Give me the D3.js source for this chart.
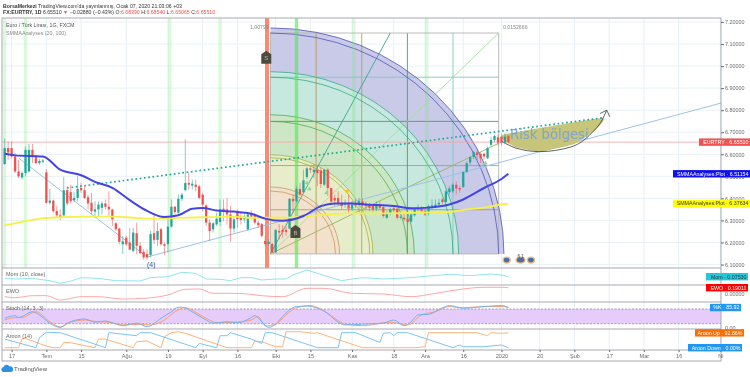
<!DOCTYPE html>
<html>
<head>
<meta charset="utf-8">
<script src="https://cdn.jsdelivr.net/npm/d3@7"></script>
<style>
    body { margin: 0; background: #fff; }
    svg { display: block; font-family: "Liberation Sans", Arial, sans-serif; filter: blur(0.3px); }
</style>
</head>
<body>
<svg id="chart" width="750" height="377"></svg>
<script>
// CANDLES, ONE ENTRY PER DAILY BAR
const opens = [6.556,6.628,6.628,6.590,6.522,6.495,6.515,6.522,6.620,6.587,6.560,6.566,6.518,6.380,6.390,6.342,6.323,6.323,6.437,6.428,6.392,6.402,6.447,6.437,6.405,6.380,6.340,6.350,6.357,6.377,6.362,6.350,6.287,6.263,6.192,6.222,6.200,6.162,6.242,6.185,6.158,6.148,6.143,6.242,6.212,6.260,6.192,6.192,6.272,6.362,6.335,6.398,6.437,6.470,6.458,6.462,6.455,6.417,6.368,6.290,6.260,6.282,6.293,6.353,6.350,6.327,6.263,6.335,6.317,6.305,6.260,6.332,6.323,6.290,6.283,6.207,6.193,6.193,6.155,6.252,6.257,6.257,6.263,6.398,6.387,6.443,6.428,6.497,6.536,6.520,6.530,6.527,6.462,6.530,6.447,6.402,6.402,6.380,6.372,6.372,6.353,6.380,6.372,6.387,6.375,6.368,6.365,6.353,6.368,6.360,6.312,6.332,6.355,6.353,6.312,6.312,6.308,6.295,6.323,6.350,6.353,6.342,6.332,6.362,6.365,6.372,6.395,6.383,6.428,6.432,6.462,6.447,6.452,6.520,6.563,6.587,6.608,6.602,6.602,6.582,6.643,6.665,6.677,6.680,6.653,6.684]
const highs = [6.672,6.658,6.658,6.605,6.575,6.522,6.635,6.647,6.647,6.597,6.578,6.578,6.533,6.443,6.395,6.365,6.350,6.497,6.455,6.462,6.428,6.500,6.470,6.455,6.417,6.425,6.387,6.387,6.387,6.395,6.432,6.353,6.293,6.267,6.230,6.230,6.267,6.267,6.290,6.200,6.170,6.170,6.252,6.328,6.290,6.267,6.200,6.312,6.395,6.365,6.417,6.425,6.668,6.515,6.485,6.485,6.462,6.425,6.372,6.305,6.293,6.335,6.395,6.395,6.402,6.365,6.312,6.350,6.335,6.330,6.335,6.345,6.335,6.298,6.290,6.230,6.215,6.200,6.260,6.283,6.278,6.272,6.402,6.417,6.455,6.470,6.530,6.542,6.545,6.548,6.552,6.537,6.533,6.537,6.447,6.417,6.432,6.417,6.395,6.417,6.387,6.398,6.402,6.398,6.387,6.380,6.372,6.387,6.387,6.365,6.342,6.357,6.365,6.357,6.327,6.335,6.327,6.335,6.357,6.372,6.365,6.357,6.372,6.395,6.395,6.398,6.402,6.440,6.455,6.470,6.477,6.455,6.522,6.567,6.590,6.615,6.615,6.608,6.608,6.635,6.680,6.690,6.690,6.695,6.695,6.685]
const lows = [6.552,6.575,6.582,6.515,6.492,6.485,6.500,6.518,6.560,6.555,6.552,6.560,6.377,6.372,6.335,6.312,6.302,6.317,6.368,6.377,6.383,6.387,6.425,6.398,6.350,6.327,6.312,6.320,6.327,6.350,6.320,6.275,6.252,6.192,6.147,6.185,6.167,6.155,6.147,6.147,6.122,6.122,6.132,6.193,6.185,6.185,6.143,6.155,6.267,6.327,6.327,6.387,6.432,6.440,6.440,6.432,6.395,6.342,6.275,6.207,6.245,6.275,6.275,6.297,6.282,6.203,6.245,6.267,6.282,6.290,6.252,6.305,6.282,6.267,6.222,6.185,6.185,6.152,6.152,6.215,6.222,6.230,6.260,6.335,6.380,6.410,6.425,6.488,6.515,6.492,6.455,6.447,6.455,6.410,6.372,6.365,6.365,6.350,6.357,6.332,6.342,6.357,6.350,6.357,6.350,6.342,6.342,6.342,6.350,6.312,6.308,6.323,6.335,6.305,6.305,6.297,6.283,6.290,6.317,6.342,6.335,6.320,6.323,6.350,6.357,6.365,6.372,6.380,6.417,6.425,6.417,6.425,6.447,6.515,6.552,6.578,6.575,6.560,6.575,6.578,6.635,6.655,6.640,6.640,6.645,6.651]
const closes = [6.628,6.608,6.590,6.522,6.500,6.515,6.620,6.620,6.587,6.560,6.570,6.572,6.380,6.390,6.342,6.323,6.315,6.437,6.377,6.387,6.402,6.443,6.437,6.402,6.377,6.342,6.350,6.372,6.377,6.362,6.350,6.305,6.260,6.203,6.205,6.192,6.167,6.245,6.185,6.152,6.132,6.132,6.238,6.212,6.252,6.192,6.185,6.272,6.362,6.338,6.398,6.417,6.470,6.462,6.467,6.452,6.402,6.372,6.290,6.252,6.287,6.308,6.350,6.345,6.327,6.263,6.305,6.305,6.302,6.317,6.327,6.317,6.290,6.278,6.230,6.193,6.203,6.155,6.257,6.245,6.248,6.248,6.398,6.387,6.443,6.417,6.482,6.536,6.530,6.530,6.515,6.465,6.530,6.447,6.385,6.390,6.380,6.365,6.380,6.353,6.372,6.368,6.387,6.368,6.365,6.357,6.350,6.372,6.357,6.320,6.332,6.350,6.347,6.312,6.317,6.305,6.293,6.327,6.354,6.357,6.342,6.327,6.365,6.368,6.372,6.380,6.383,6.432,6.445,6.462,6.445,6.440,6.520,6.560,6.587,6.610,6.597,6.582,6.590,6.628,6.665,6.683,6.653,6.653,6.680,6.6551]

// MOVING AVERAGES
const smmaFastBars = [0,3,11,16,22,26,31,36,41,46,50,54,57,61,66,71,75,80,86,91,95,100,104,112,117,122,128,132,138,143,145]
const smmaFast = [6.602,6.595,6.590,6.530,6.505,6.475,6.448,6.392,6.343,6.315,6.323,6.353,6.356,6.345,6.340,6.330,6.308,6.298,6.320,6.365,6.377,6.377,6.372,6.365,6.355,6.358,6.372,6.395,6.447,6.488,6.5115]
const smmaSlowBars = [0,4,10,16,23,31,37,42,47,57,66,71,80,90,100,109,119,128,133,138,143,145]
const smmaSlow = [6.278,6.290,6.308,6.314,6.317,6.317,6.312,6.308,6.310,6.314,6.317,6.312,6.312,6.323,6.332,6.332,6.335,6.338,6.350,6.358,6.372,6.3763]

// LOWER PANES
const momBars = [0,3,8,13,16,19,22,27,32,39,42,47,51,55,58,62,65,68,71,74,78,81,83,87,90,94,97,100,103,109,117,122,128,134,140,143,145]
const momValues = [.03,0,.02,-.055,-.142,-.07,.044,.02,-.055,-.066,.044,.076,.219,.186,0,-.01,-.055,.044,.044,-.033,0,0,.13,.295,.186,.044,-.055,0,.044,0,.044,.098,.153,.11,.164,.13,.0753]
const ewoBars = [0,3,8,12,16,22,27,34,40,47,52,56,60,66,70,74,80,87,92,100,109,117,124,132,138,143,145]
const ewoValues = [-.081,-.111,-.051,-.051,-.182,-.081,-.081,-.152,-.131,-.03,.142,.152,.02,.02,0,-.051,-.081,.172,.172,.02,0,-.081,.02,.152,.202,.202,.1901]
const stochKBars = [0,3,4,8,10,13,16,18,23,26,29,34,38,41,45,48,50,51,55,58,60,64,67,71,72,74,76,78,80,82,84,87,90,93,96,98,103,109,112,115,117,119,122,126,128,132,138,143,145]
const stochK = [42,53,45,69,56,22,5,22,39,26,31,12,22,8,42,69,87,87,60,35,22,28,24,45,53,28,5,18,49,76,90,92,83,62,26,15,18,22,35,12,28,56,58,85,94,83,90,94,85.92]
const stochDBars = [0,3,5,9,13,16,19,23,27,30,34,39,42,46,49,52,56,59,61,66,71,73,75,78,81,84,88,91,95,98,103,111,116,120,124,128,132,138,143,145]
const stochD = [35,45,45,69,28,7,26,35,28,26,15,18,15,35,69,85,58,35,24,26,35,49,11,18,56,85,94,80,42,18,12,26,15,56,69,90,85,90,90,87]
const aroonUpBars = [0,4,5,6,12,14,16,17,19,26,27,29,37,38,41,45,46,48,50,52,64,71,72,74,78,80,81,85,89,90,103,118,121,122,136,139,140,143,145]
const aroonUp = [0,0,54,58,10,0,0,33,31,0,54,54,0,37,42,0,69,94,100,90,0,0,42,37,6,6,100,100,90,94,0,0,6,94,94,75,94,90,92.86]
const aroonDownBars = [0,9,10,12,16,29,30,38,39,42,55,56,61,62,64,65,71,74,75,77,90,96,97,101,108,109,111,112,113,116,129,131,132,138,143,145]
const aroonDown = [54,0,62,96,94,0,94,75,94,94,0,27,0,75,75,94,54,27,94,94,0,0,94,94,33,90,94,75,94,94,0,17,6,6,17,0]

// TICK LABELS
const priceTicks = [7.2,7.1,7.0,6.9,6.8,6.7,6.6,6.5,6.4,6.3,6.2,6.1]
const dateTickBars = [2,12,22,35,47,57,67,78,88,100,112,121,132,143,154,164,174,184,194,206]
const dateTickLabels = ['17','Tem','15','Ağu','19','Eyl','16','Eki','15','Kas','18','Ara','16','2020','20','Şub','17','Mar','16','Ni']
const sessionBars = [0,6,47.5,62,84,100.5,121.5]

// DRAWINGS
const gannStart = [76.5, 6.148]
const gannEnd = [142.2, 7.15]
const gannLevels = [0.2, 0.4, 0.6, 0.8]
const gannInner = [0.285, 0.435, 0.6, 0.8, 1]
const gannOuter = [0.303, 0.449, 0.63, 0.825, 1.023]
const gannFills = ['#f2e1cc', '#e7edcb', '#cde7c6', '#c7e8df', '#c8cae8']
const gannStrokes = ['#c79a5c', '#a3b342', '#4caf50', '#3aa88e', '#5256b8']
const gannGrid = ['#b79a5a', '#a3ad4d', '#4f9f5c', '#7ccbb8']
const fanEnds = [[111, 7.15], [142.2, 7.15], [142.2, 6.65]]
const fanColours = ['#3aa88e', '#a5dca0', '#9db35b']
const trendBars = [4, 41, 206.4]
const trendPrices = [6.583, 6.134, 6.833]
const dotsBars = [18, 172]
const dotsPrices = [6.447, 6.765]
const riskBars = [144.2, 172, 170, 164, 154, 147, 143.5]
const riskPrices = [6.692, 6.765, 6.71, 6.647, 6.612, 6.633, 6.665]
const arrowBars = [143, 147, 154, 163, 169, 172, 173.3]
const arrowPrices = [6.66, 6.629, 6.612, 6.633, 6.697, 6.756, 6.80]
const triangleBars = [87.7, 87, 92.6, 138.4]
const trianglePrices = [6.443, 6.47, 6.425, 6.56]

let svg = d3.select('#chart')

// SCALES
let x = d3.scaleLinear().domain([0, 145]).range([4.67, 508.4])
let y = d3.scaleLinear().domain([6.1, 7.2]).range([264.5, 22])
let yMom = d3.scaleLinear().domain([0, 0.0753]).range([279, 276.7])
let yEwo = d3.scaleLinear().domain([0, 0.1901]).range([294, 287.7])
let yStoch = d3.scaleLinear().domain([0, 100]).range([328.6, 304.1])
let yAroon = d3.scaleLinear().domain([0, 100]).range([347.7, 331.7])

let chartLeft = 2
let chartRight = 721
let chartTop = 18
let mainBottom = 268
let axisTop = 350
let chartBottom = 361

// GRID
svg.append('g')
    .selectAll('line')
    .data(dateTickBars)
    .join('line')
        .attr('x1', d => x(d))
        .attr('x2', d => x(d))
        .attr('y1', chartTop)
        .attr('y2', axisTop)
        .attr('stroke', '#e6f0f4')
        .attr('stroke-width', 1)
svg.append('g')
    .selectAll('line')
    .data(priceTicks)
    .join('line')
        .attr('x1', chartLeft)
        .attr('x2', chartRight)
        .attr('y1', d => y(d))
        .attr('y2', d => y(d))
        .attr('stroke', '#e9f2f5')
        .attr('stroke-width', 1)

// GANN ARCS
let gannX = d3.scaleLinear().domain([0, 1]).range([x(gannStart[0]), x(gannEnd[0])])
let gannY = d3.scaleLinear().domain([0, 1]).range([y(gannStart[1]), y(gannEnd[1])])
let quarter = function(level) {
    let rx = gannX(level) - gannX(0)
    let ry = gannY(0) - gannY(level)
    return [`M${gannX(level)},${gannY(0)}`, `A${rx},${ry} 0 0 0 ${gannX(0)},${gannY(level)}`]
}
let gann = svg.append('g')
d3.range(4, -1, -1).forEach(i => {
    let outer = quarter(gannOuter[i])
    gann.append('path')
        .attr('d', outer.join('') + `L${gannX(0)},${gannY(0)}Z`)
        .attr('fill', gannFills[i])
})
gannLevels.forEach((level, i) => {
    gann.append('line')
        .attr('x1', gannX(level)).attr('x2', gannX(level))
        .attr('y1', gannY(0)).attr('y2', gannY(1))
        .attr('stroke', gannGrid[i]).attr('stroke-width', 0.9)
    gann.append('line')
        .attr('x1', gannX(0)).attr('x2', gannX(1))
        .attr('y1', gannY(level)).attr('y2', gannY(level))
        .attr('stroke', gannGrid[i]).attr('stroke-width', 0.9)
})
gann.append('rect')
    .attr('x', gannX(0))
    .attr('y', gannY(1))
    .attr('width', gannX(1) - gannX(0))
    .attr('height', gannY(0) - gannY(1))
    .attr('fill', 'none')
    .attr('stroke', '#b5b5b5')
    .attr('stroke-width', 0.9)
fanEnds.forEach((end, i) => {
    gann.append('line')
        .attr('x1', gannX(0)).attr('y1', gannY(0))
        .attr('x2', x(end[0])).attr('y2', y(end[1]))
        .attr('stroke', fanColours[i]).attr('stroke-width', 0.9)
})
gannStrokes.forEach((colour, i) => {
    [gannInner[i], gannOuter[i]].forEach(level => {
        gann.append('path')
            .attr('d', quarter(level).join(''))
            .attr('fill', 'none')
            .attr('stroke', colour)
            .attr('stroke-width', 0.8)
    })
})

// SESSION BANDS
svg.append('g')
    .selectAll('rect')
    .data(sessionBars)
    .join('rect')
        .attr('x', d => x(d) - 1.7)
        .attr('y', chartTop)
        .attr('width', 3.4)
        .attr('height', mainBottom - chartTop)
        .attr('fill', (d, i) => i == 4 ? '#4fe84f' : '#6fe86f')
        .attr('fill-opacity', (d, i) => i == 4 ? 0.6 : 0.24)
svg.append('rect')
    .attr('x', 265)
    .attr('y', chartTop)
    .attr('width', 4)
    .attr('height', mainBottom - chartTop)
    .attr('fill', '#fa8a72')

// LAST PRICE LINE
svg.append('line')
    .attr('x1', chartLeft)
    .attr('x2', chartRight)
    .attr('y1', y(closes[closes.length - 1]))
    .attr('y2', y(closes[closes.length - 1]))
    .attr('stroke', '#f7a3a3')
    .attr('stroke-width', 0.8)

// TREND LINES
let polyline = d3.line().x(d => x(d[0])).y(d => y(d[1]))
svg.append('path')
    .attr('d', polyline(d3.zip(trendBars, trendPrices)))
    .attr('fill', 'none')
    .attr('stroke', '#9cc2e8')
    .attr('stroke-width', 1)

// RISK AREA AND ARROW
svg.append('path')
    .attr('d', d3.line().x(d => x(d[0])).y(d => y(d[1])).curve(d3.curveCardinalClosed.tension(0.6))(d3.zip(riskBars, riskPrices)))
    .attr('fill', '#c6c57a')
svg.append('path')
    .attr('d', polyline.curve(d3.curveMonotoneX)(d3.zip(arrowBars, arrowPrices)))
    .attr('fill', 'none')
    .attr('stroke', '#3a3a3a')
    .attr('stroke-width', 0.8)
polyline.curve(d3.curveLinear)
svg.append('path')
    .attr('d', polyline([[171.4, 6.785], [173.3, 6.80], [174.2, 6.77]]))
    .attr('fill', 'none')
    .attr('stroke', '#3a3a3a')
    .attr('stroke-width', 0.8)

svg.append('path')
    .attr('d', polyline(d3.zip(dotsBars, dotsPrices)))
    .attr('fill', 'none')
    .attr('stroke', '#26a69a')
    .attr('stroke-width', 1.7)
    .attr('stroke-dasharray', '1.7 2.6')

// CANDLES
let up = '#26a69a'
let down = '#ef5350'
let colourOf = i => closes[i] >= opens[i] ? up : down
let candles = svg.append('g')
candles.selectAll('line')
    .data(opens)
    .join('line')
        .attr('x1', (d, i) => x(i))
        .attr('x2', (d, i) => x(i))
        .attr('y1', (d, i) => y(highs[i]))
        .attr('y2', (d, i) => y(lows[i]))
        .attr('stroke', (d, i) => colourOf(i))
        .attr('stroke-opacity', 0.7)
        .attr('stroke-width', 0.8)
candles.selectAll('rect')
    .data(opens)
    .join('rect')
        .attr('x', (d, i) => x(i) - 1.15)
        .attr('width', 2.3)
        .attr('y', (d, i) => y(Math.max(opens[i], closes[i])))
        .attr('height', (d, i) => Math.max(0.8, Math.abs(y(opens[i]) - y(closes[i]))))
        .attr('fill', (d, i) => colourOf(i))

// SMMA LINES
let smooth = d3.line().curve(d3.curveMonotoneX).x(d => x(d[0])).y(d => y(d[1]))
svg.append('path')
    .attr('d', smooth(d3.zip(smmaSlowBars, smmaSlow)))
    .attr('fill', 'none')
    .attr('stroke', '#f5f04a')
    .attr('stroke-width', 1.9)
svg.append('path')
    .attr('d', smooth(d3.zip(smmaFastBars, smmaFast)))
    .attr('fill', 'none')
    .attr('stroke', '#4444e6')
    .attr('stroke-width', 2)

// TRIANGLES, STAR AND FLAGS
svg.append('g')
    .selectAll('path')
    .data(d3.zip(triangleBars, trianglePrices))
    .join('path')
        .attr('d', d3.symbol(d3.symbolTriangle, 9))
        .attr('transform', d => `translate(${x(d[0])},${y(d[1])})`)
        .attr('fill', '#8fd98f')
svg.append('path')
    .attr('d', d3.symbol(d3.symbolStar, 9))
    .attr('transform', `translate(${x(98.6)},${y(6.433)})`)
    .attr('fill', '#ffc107')

let flag = function(bar, price, label) {
    let fx = x(bar)
    let fy = y(price)
    svg.append('path')
        .attr('d', `M${fx - 5},${fy + 6}V${fy - 3.5}L${fx},${fy - 7}L${fx + 5},${fy - 3.5}V${fy + 6}Z`)
        .attr('fill', '#4b4b3e')
    svg.append('text')
        .attr('x', fx)
        .attr('y', fy + 2.5)
        .attr('text-anchor', 'middle')
        .attr('font-size', 6)
        .attr('fill', '#b5b5a5')
        .text(label)
}
flag(75.3, 7.038, 'S')
flag(83.7, 6.247, 'B')

// ICON BELOW THE ARCS
let icon = svg.append('g')
icon.selectAll('ellipse')
    .data([144.5, 148.5, 151.5])
    .join('ellipse')
        .attr('cx', d => x(d))
        .attr('cy', y(6.12))
        .attr('rx', (d, i) => i == 1 ? 4.5 : 3.5)
        .attr('ry', 3)
        .attr('fill', '#4a6fa8')
        .attr('stroke', '#f5b880')
        .attr('stroke-width', 1.3)
icon.append('text')
    .attr('x', x(148.5))
    .attr('y', y(6.13))
    .attr('text-anchor', 'middle')
    .attr('font-size', 4.5)
    .attr('fill', '#333')
    .text('6.1')

// LOWER PANES
let stochBand = svg.append('g')
stochBand.append('rect')
    .attr('x', chartLeft)
    .attr('y', yStoch(80))
    .attr('width', chartRight - chartLeft)
    .attr('height', yStoch(20) - yStoch(80))
    .attr('fill', '#e6ccfb')
stochBand.selectAll('line')
    .data([80, 20])
    .join('line')
        .attr('x1', chartLeft)
        .attr('x2', chartRight)
        .attr('y1', d => yStoch(d))
        .attr('y2', d => yStoch(d))
        .attr('stroke', '#8d7a9c')
        .attr('stroke-width', 0.7)
        .attr('stroke-dasharray', '2 1.5')

let paneLine = function(bars, values, scale, colour, curve) {
    svg.append('path')
        .attr('d', d3.line().curve(curve).x(d => x(d[0])).y(d => scale(d[1]))(d3.zip(bars, values)))
        .attr('fill', 'none')
        .attr('stroke', colour)
        .attr('stroke-width', 1)
}
paneLine(momBars, momValues, yMom, '#8fe3ec', d3.curveLinear)
paneLine(ewoBars, ewoValues, yEwo, '#ffa6a6', d3.curveMonotoneX)
paneLine(stochDBars, stochD, yStoch, '#ff9d6a', d3.curveMonotoneX)
paneLine(stochKBars, stochK, yStoch, '#6fb3f0', d3.curveMonotoneX)
paneLine(aroonUpBars, aroonUp, yAroon, '#ffb27a', d3.curveLinear)
paneLine(aroonDownBars, aroonDown, yAroon, '#7cc4f5', d3.curveLinear)

// FRAME
let frame = svg.append('g').attr('stroke', '#a9a9b2').attr('fill', 'none')
frame.append('rect')
    .attr('x', chartLeft)
    .attr('y', chartTop)
    .attr('width', chartRight - chartLeft)
    .attr('height', chartBottom - chartTop)
    .attr('stroke-width', 1)
frame.selectAll('line')
    .data([mainBottom, 285, 302, 329, axisTop])
    .join('line')
        .attr('x1', chartLeft)
        .attr('x2', chartRight)
        .attr('y1', d => d)
        .attr('y2', d => d)
        .attr('stroke-width', 1)

// AXES
let priceAxis = svg.append('g')
    .attr('transform', `translate(${chartRight},0)`)
    .call(d3.axisRight(y).tickValues(priceTicks).tickFormat(d3.format('.5f')).tickSize(3).tickPadding(1))
priceAxis.select('.domain').remove()
priceAxis.attr('font-size', 5.4).attr('font-family', null).attr('color', '#6b6b6b')

let dateAxis = svg.append('g')
    .attr('transform', `translate(0,${axisTop})`)
    .call(d3.axisBottom(x).tickValues(dateTickBars).tickFormat((d, i) => dateTickLabels[i]).tickSize(2).tickPadding(2))
dateAxis.select('.domain').remove()
dateAxis.attr('font-size', 5.6).attr('font-family', null).attr('color', '#6b6b6b')

// TEXT LABELS
let label = function(tx, ty, content, size, colour, anchor) {
    return svg.append('text')
        .attr('x', tx)
        .attr('y', ty)
        .attr('font-size', size)
        .attr('fill', colour)
        .attr('text-anchor', anchor || 'start')
        .text(content)
}
label(3, 7.5, '', 5.2, '#333').call(t => {
    t.append('tspan').attr('font-weight', 'bold').text('BorsaMerkezi')
    t.append('tspan').text(" TradingView.com'da yayınlanmış, Ocak 07, 2020 21:03:06 +03")
})
label(3, 14, '', 5.2, '#333').call(t => {
    t.append('tspan').attr('font-weight', 'bold').text('FX:EURTRY, 1D')
    t.append('tspan').text(' 6.65510 ')
    t.append('tspan').attr('fill', '#ef5350').text('▼')
    t.append('tspan').text(' −0.02880 (−0.43%) O:')
    t.append('tspan').attr('fill', '#ef5350').text('6.68390')
    t.append('tspan').text(' H:')
    t.append('tspan').attr('fill', '#ef5350').text('6.68540')
    t.append('tspan').text(' L:')
    t.append('tspan').attr('fill', '#ef5350').text('6.65065')
    t.append('tspan').text(' C:')
    t.append('tspan').attr('fill', '#ef5350').text('6.65510')
})
label(6, 27, 'Euro / Türk Lirası, 1G, FXCM', 5.3, '#555')
label(6, 34.5, 'SMMAAnalyses (20, 100)', 5.3, '#888')
label(6, 276, 'Mom (10, close)', 5.5, '#666')
label(6, 293, 'EWO', 5.5, '#666')
label(6, 310, 'Stoch (14, 3, 3)', 5.5, '#666')
label(6, 338, 'Aroon (14)', 5.5, '#666')
label(250, 28.5, '1.00799', 5.2, '#888')
label(503, 28.5, '0.0152666', 5.2, '#888')
label(147, 266.5, '(4)', 7, '#2a5a9c')
label(510, 139, 'Risk bölgesi', 13.2, '#6f9ee8')
    .attr('font-family', '"DejaVu Sans"')
    .attr('fill-opacity', 0.85)
label(725, 296, '0.00000', 5.4, '#6b6b6b')
label(725, 330, '0.00', 5.4, '#6b6b6b')

// PRICE LABEL BOXES
let tags = [
    {text: 'EURTRY · 6.65510', value: closes[closes.length - 1], scale: y, left: 699, right: 750, fill: '#ef5350', colour: '#fff'},
    {text: 'SMMAAnalyses:Plot · 6.51154', value: smmaFast[smmaFast.length - 1], scale: y, left: 673, right: 750, fill: '#1010ee', colour: '#fff'},
    {text: 'SMMAAnalyses:Plot · 6.37634', value: smmaSlow[smmaSlow.length - 1], scale: y, left: 673, right: 750, fill: '#ffff00', colour: '#333'},
    {text: 'Mom · 0.07530', value: momValues[momValues.length - 1], scale: yMom, left: 706, right: 748, fill: '#26c6da', colour: '#1c3c40'},
    {text: 'EWO · 0.19011', value: ewoValues[ewoValues.length - 1], scale: yEwo, left: 706, right: 748, fill: '#f00', colour: '#fff'},
    {text: '%K · 85.92', value: stochK[stochK.length - 1], scale: yStoch, left: 710, right: 741, fill: '#2196f3', colour: '#fff'},
    {text: 'Aroon Up · 92.86%', value: aroonUp[aroonUp.length - 1], scale: yAroon, left: 695, right: 744, fill: '#ff6d00', colour: '#fff'},
    {text: 'Aroon Down · 0.00%', value: aroonDown[aroonDown.length - 1], scale: yAroon, left: 688, right: 742, fill: '#2196f3', colour: '#fff'}
]
tags.forEach(tag => {
    let cy = tag.scale(tag.value)
    svg.append('rect')
        .attr('x', tag.left)
        .attr('y', cy - 3.7)
        .attr('width', tag.right - tag.left)
        .attr('height', 7.4)
        .attr('fill', tag.fill)
    label(tag.right - 1.5, cy + 1.9, tag.text, 5.3, tag.colour, 'end')
})

// LOGO
svg.append('path')
    .attr('d', 'M3,372 a2.6,2.6 0 0 1 0.5,-5 a3.2,3.2 0 0 1 6,-0.5 a2.8,2.8 0 0 1 1.5,5.5 Z')
    .attr('fill', '#2f8fe0')
label(14, 371, 'TradingView', 6, '#555')
</script>
</body>
</html>
